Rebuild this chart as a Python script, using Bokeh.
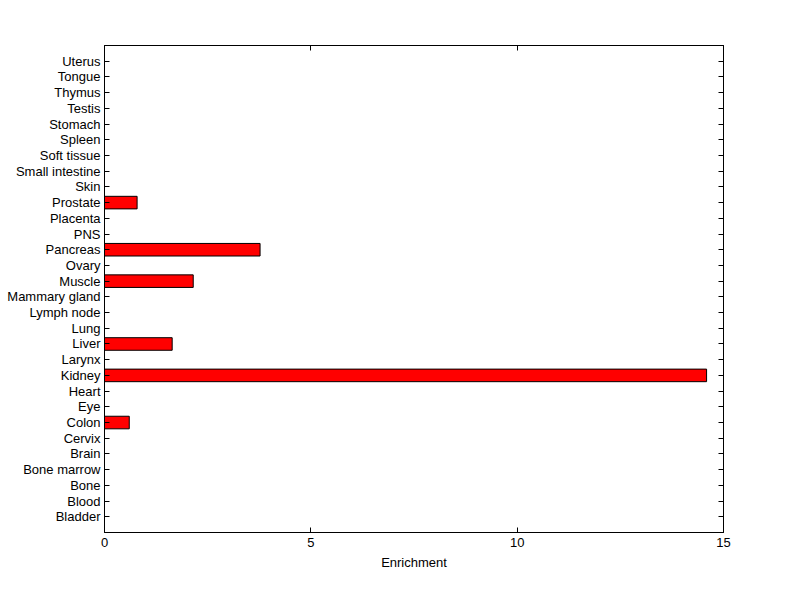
from bokeh.plotting import figure
from bokeh.models import LinearAxis, FixedTicker, Range1d
from bokeh.embed import file_html
from bokeh.resources import INLINE

categories = ["Bladder", "Blood", "Bone", "Bone marrow", "Brain", "Cervix", "Colon", "Eye",
              "Heart", "Kidney", "Larynx", "Liver", "Lung", "Lymph node", "Mammary gland",
              "Muscle", "Ovary", "Pancreas", "PNS", "Placenta", "Prostate", "Skin",
              "Small intestine", "Soft tissue", "Spleen", "Stomach", "Testis", "Thymus",
              "Tongue", "Uterus"]
enrichment = [0, 0, 0, 0, 0, 0, 0.6, 0, 0, 14.59, 0, 1.64, 0, 0, 0,
              2.15, 0, 3.77, 0, 0, 0.79, 0, 0, 0, 0, 0, 0, 0, 0, 0]
x_ticks = [0, 5, 10, 15]

ypos = list(range(1, len(categories) + 1))
FONT = "Liberation Sans"

p = figure(frame_width=619, frame_height=487, width=784, height=583,
           min_border_left=104, min_border_right=61, min_border_top=45, min_border_bottom=51,
           x_range=Range1d(0, 15), y_range=Range1d(0, len(categories) + 1),
           output_backend="svg", toolbar_location=None,
           x_axis_location=None, y_axis_location=None)
p.grid.visible = False
p.outline_line_color = "black"
p.outline_line_width = 1
p.background_fill_color = "white"
p.border_fill_color = "white"

bars = [(y, v) for y, v in zip(ypos, enrichment) if v > 0]
p.hbar(y=[b[0] for b in bars], right=[b[1] for b in bars], left=0, height=0.8,
       fill_color="#ff0000", line_color="black", line_width=1)

def style(ax, labels=True):
    ax.major_tick_in = 5
    ax.major_tick_out = 0
    ax.minor_tick_in = 0
    ax.minor_tick_out = 0
    ax.axis_line_color = "black"
    ax.major_tick_line_color = "black"
    ax.major_label_text_font = FONT
    ax.major_label_text_font_size = "13px"
    ax.major_label_text_color = "black"
    ax.axis_label_text_font = FONT
    ax.axis_label_text_font_size = "13px"
    ax.axis_label_text_font_style = "normal"
    ax.axis_label_text_color = "black"
    if not labels:
        ax.major_label_text_font_size = "0px"
        ax.major_label_text_alpha = 0

xb = LinearAxis(ticker=FixedTicker(ticks=x_ticks), axis_label="Enrichment")
style(xb)
xb.major_label_standoff = 5
xb.axis_label_standoff = 5
p.add_layout(xb, "below")
xt = LinearAxis(ticker=FixedTicker(ticks=x_ticks))
style(xt, labels=False)
p.add_layout(xt, "above")

yl = LinearAxis(ticker=FixedTicker(ticks=ypos),
                major_label_overrides={y: c for y, c in zip(ypos, categories)})
style(yl)
yl.major_label_standoff = 4
p.add_layout(yl, "left")
yr = LinearAxis(ticker=FixedTicker(ticks=ypos))
style(yr, labels=False)
p.add_layout(yr, "right")

open("out.html", "w").write(file_html(p, INLINE))
